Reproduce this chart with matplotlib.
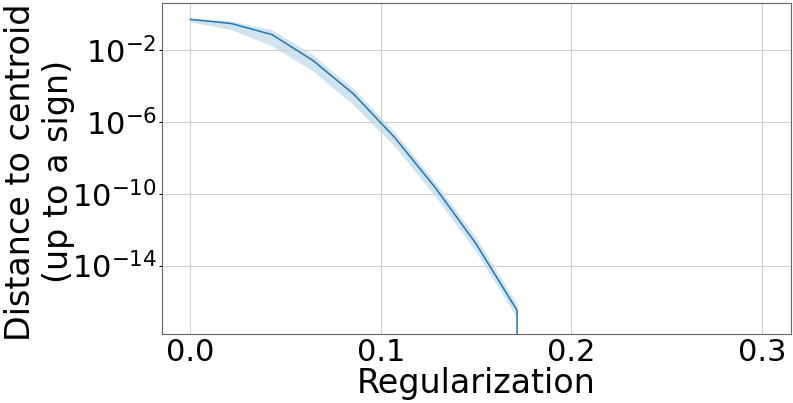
import numpy as np
import matplotlib
matplotlib.use("Agg")
import matplotlib.pyplot as plt

# data (log10 of distance)
reg = np.linspace(0, 0.3, 15)
log_mean = [-0.27, -0.50, -1.12, -2.56, -4.44, -6.85, -9.66, -12.8, -16.5]
log_upper = [-0.20, -0.35, -0.85, -2.25, -4.15, -6.55, -9.35, -12.45, -16.15]
log_lower = [-0.40, -0.85, -1.75, -3.15, -5.05, -7.35, -10.15, -13.25, -16.9]
n_zero = 6  # remaining points are exactly zero

mean = np.concatenate([10.0 ** np.array(log_mean), np.zeros(n_zero)])
upper = 10.0 ** np.array(log_upper)
lower = 10.0 ** np.array(log_lower)

fig = plt.figure(figsize=(7.93, 4.03), dpi=100)
ax = fig.add_axes([0.204, 0.171, 0.793, 0.822])

ax.fill_between(reg[:len(log_mean)], lower, upper, color="#1f77b4", alpha=0.2, linewidth=0)
ax.plot(reg, mean, color="#1f77b4", linewidth=1.1)

ax.set_yscale("log")
ax.set_ylim(1.5e-18, 4.5)
ax.set_xlim(-0.015, 0.315)
ax.set_yticks([1e-2, 1e-6, 1e-10, 1e-14])
ax.yaxis.set_minor_locator(matplotlib.ticker.NullLocator())
ax.set_xticks([0.0, 0.1, 0.2, 0.3])

ax.grid(True, color="#d0d0d0", linewidth=0.8)
ax.tick_params(labelsize=22)
ax.tick_params(axis="x", length=0, pad=2.5)
ax.tick_params(axis="y", length=2.5, pad=1)
for s in ax.spines.values():
    s.set_color("#666666")

ax.set_xlabel("Regularization", fontsize=24, labelpad=0)
ax.set_ylabel("Distance to centroid\n(up to a sign)", fontsize=24)
ax.yaxis.set_label_coords(-0.138, 0.49)

fig.savefig("out.png", dpi=100)
